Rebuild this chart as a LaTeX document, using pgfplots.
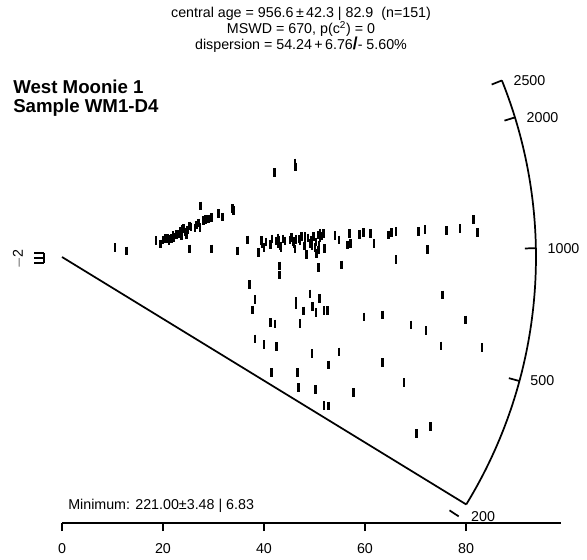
\documentclass[border=0pt]{standalone}
\usepackage{fontspec}
\setmainfont{Liberation Sans}
\usepackage{pgfplots}
\pgfplotsset{compat=1.18}
\usepackage{pgfplotstable}

\pgfplotstableread{
X Y
42.04 39.95
46.14 44.55
46.28 42.65
10.50 4.50
12.81 2.84
18.61 7.91
19.54 6.16
20.40 8.67
20.85 8.77
21.39 8.53
21.72 8.77
22.18 9.15
22.67 10.66
23.03 11.00
23.47 12.32
23.76 13.03
24.06 13.60
24.65 10.43
24.81 12.80
25.21 14.69
25.21 3.79
26.67 15.17
26.99 16.11
27.33 13.98
27.43 24.17
27.98 17.30
28.42 17.77
29.01 18.01
29.64 18.72
29.66 3.79
30.95 20.52
31.82 18.86
33.76 23.08
33.92 21.94
34.71 2.84
36.69 8.15
38.87 2.23
39.54 7.91
40.00 4.41
41.23 5.83
42.77 9.00
42.97 7.82
42.89 6.49
43.23 5.21
44.16 7.68
45.49 9.15
45.80 7.25
46.14 3.70
47.03 8.63
47.47 9.62
48.02 5.21
48.12 9.62
48.46 1.09
49.11 6.49
49.45 8.06
49.84 9.62
50.10 4.50
50.44 1.75
50.75 10.43
51.09 11.23
51.74 11.23
51.94 4.12
54.06 10.19
54.85 8.06
56.53 5.69
56.93 11.04
57.17 6.49
58.87 10.76
59.66 11.71
61.13 11.23
61.78 6.49
64.61 10.43
65.29 11.52
66.14 11.99
70.55 11.99
71.88 13.13
76.18 12.46
78.81 13.60
81.45 17.68
82.32 11.52
43.01 -4.27
43.01 -8.53
50.75 -4.98
55.39 -3.79
66.14 -1.09
72.34 3.65
37.09 -12.94
38.22 -20.05
37.76 -25.12
41.33 -31.14
42.18 -31.75
38.22 -38.86
40.00 -41.37
42.51 -42.51
49.11 -17.54
46.34 -21.18
46.34 -22.75
47.78 -25.59
49.64 -23.55
50.30 -26.21
50.95 -19.76
51.88 -25.45
52.61 -25.45
47.13 -31.42
59.80 -28.44
63.43 -27.49
75.39 -18.01
79.84 -29.86
69.11 -32.23
72.08 -34.93
75.05 -42.18
83.17 -42.80
49.50 -45.64
54.85 -45.02
52.73 -51.18
63.50 -49.91
67.72 -59.57
41.52 -54.83
46.67 -54.64
46.79 -61.94
50.24 -62.70
57.68 -64.12
51.88 -70.47
52.73 -70.62
70.24 -83.55
73.01 -80.43
43.37 4.27
50.75 3.32
50.89 5.69
50.30 7.11
51.09 9.00
51.49 9.95
47.13 7.58
46.34 8.29
45.94 6.16
45.15 8.06
43.76 8.53
42.38 7.58
41.58 8.53
40.40 7.11
23.66 9.95
24.36 11.85
25.54 14.22
21.19 7.58
21.98 10.19
20.00 8.06
26.34 13.74
48.12 6.64
49.50 5.21
48.71 9.00
39.60 6.16
}\grains

\newcommand{\lbl}{\fontsize{10.7}{12.8}\selectfont}

\begin{document}
\begin{tikzpicture}
\begin{axis}[
  x=3.7875pt, y=1.5825pt,
  xmin=0, xmax=98.8, ymin=-126.07, ymax=121.8,
  enlargelimits=false,
  axis x line*=bottom, axis y line=none,
  clip=false,
  xtick={0,20,40,60,80},
  tick align=outside,
  major tick length=6pt,
  tick style={line width=1.2pt, black},
  axis line style={line width=1.2pt, black},
  ticklabel style={font=\lbl},
  /pgf/number format/assume math mode=true,
  xticklabel style={inner sep=0pt, yshift=-9pt},
]
% invisible frame fixing the page size
\path (axis cs:-12.277,121.8) rectangle (axis cs:103.96,-143.6);

% grains
\addplot[only marks, mark=|, mark size=3.2pt, mark options={line width=2pt, black}] table[x=X, y=Y] {\grains};

% minimum-age ray
\addplot[line width=1.3pt, black, no marks] coordinates {(0,0) (80.06,-117.3)};

% radial scale arc
\draw[line width=1.3pt] (axis cs:0,0) ++(-31.47:355.5pt) arc[start angle=-31.47, end angle=21.87, radius=355.5pt];
\draw[line width=1.3pt] (axis cs:0,0) ++(21.87:355.5pt) -- ++(201.87:8.25pt);
\draw[line width=1.3pt] (axis cs:0,0) ++(17.13:355.5pt) -- ++(197.13:8.25pt);
\draw[line width=1.3pt] (axis cs:0,0) ++(1.06:355.5pt) -- ++(181.06:8.25pt);
\draw[line width=1.3pt] (axis cs:0,0) ++(-15.17:355.5pt) -- ++(164.83:8.25pt);
\draw[line width=1.3pt] (axis cs:0,0) ++(-33.18:355.5pt) -- ++(146.82:8.25pt);
\path (axis cs:0,0) ++(21.87:355.5pt) node[anchor=west, inner sep=0pt, xshift=8.6pt, font=\lbl] {2500};
\path (axis cs:0,0) ++(17.13:355.5pt) node[anchor=west, inner sep=0pt, xshift=8.6pt, font=\lbl] {2000};
\path (axis cs:0,0) ++(1.06:355.5pt) node[anchor=west, inner sep=0pt, xshift=8.6pt, font=\lbl] {1000};
\path (axis cs:0,0) ++(-15.17:355.5pt) node[anchor=west, inner sep=0pt, xshift=8.0pt, font=\lbl] {500};
\path (axis cs:0,0) ++(-33.18:355.5pt) node[anchor=west, inner sep=0pt, xshift=9.2pt, font=\lbl] {200};

% standardised-estimate scale
\draw[line width=1.2pt] (axis cs:-3.564,1.90) -- (axis cs:-3.564,-2.84);
\draw[line width=1.2pt] (axis cs:-3.564,1.90) -- (axis cs:-5.54,1.90);
\draw[line width=1.2pt] (axis cs:-3.564,-0.47) -- (axis cs:-5.54,-0.47);
\draw[line width=1.2pt] (axis cs:-3.564,-2.84) -- (axis cs:-5.54,-2.84);
\node[rotate=90, inner sep=0pt, font=\lbl] at (axis cs:-8.6,-0.95) {$-$2};

% titles
\node[anchor=base, inner sep=0pt, font=\lbl] at (axis cs:47.33,113.74) {central age = 956.6\,±\,42.3 | 82.9 \ (n=151)};
\node[anchor=base, inner sep=0pt, font=\lbl] at (axis cs:47.33,105.9) {MSWD = 670, p(c\textsuperscript{2}) = 0};
\node[anchor=base, inner sep=0pt, font=\lbl] at (axis cs:47.33,98.2) {dispersion = 54.24\,+\,6.76{\fontsize{13}{13}\selectfont\bfseries /}- 5.60\%};

\node[anchor=base west, inner sep=0pt, font=\fontsize{14}{16}\selectfont\bfseries] at (axis cs:-9.70,77.25) {West Moonie 1};
\node[anchor=base west, inner sep=0pt, font=\fontsize{14}{16}\selectfont\bfseries] at (axis cs:-9.70,68.48) {Sample WM1-D4};

\node[anchor=base west, inner sep=0pt, font=\lbl] at (axis cs:1.19,-119.9) {Minimum: 221.00±3.48 | 6.83};
\end{axis}
\end{tikzpicture}
\end{document}
